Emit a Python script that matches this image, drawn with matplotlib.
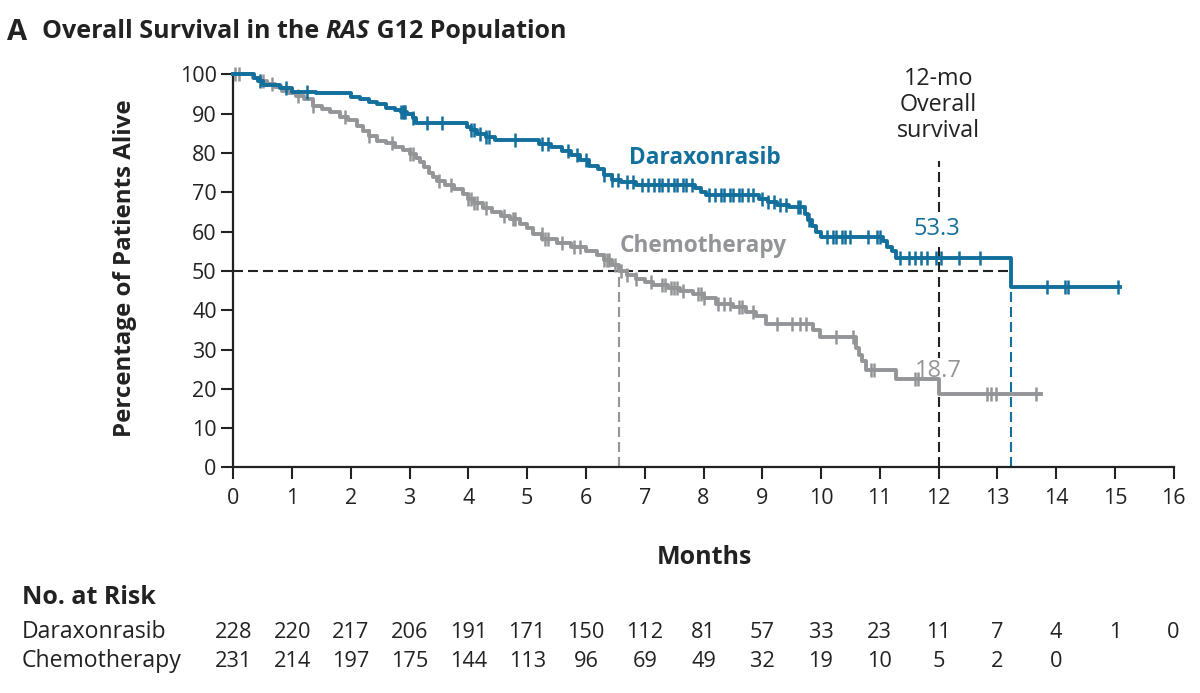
import numpy as np
import matplotlib
matplotlib.use("Agg")
import matplotlib.pyplot as plt

plt.rcParams['font.family'] = ['Open Sans', 'DejaVu Sans']

BLUE = "#136f9c"
GRAY = "#939598"
INK = "#222222"

# Kaplan-Meier step points (month of drop, percent alive after drop)
dar_times = [0.35, 0.42, 0.5, 0.8, 1.0, 1.4, 2.0, 2.15, 2.3, 2.45, 2.6, 2.75, 2.85,
             2.95, 3.05, 3.1, 3.97, 4.05, 4.15, 4.3, 4.45, 5.2, 5.4, 5.6, 5.75, 5.9,
             6.05, 6.2, 6.3, 6.45, 6.6, 6.85, 7.85, 7.95, 8.05, 8.95, 9.1, 9.25,
             9.45, 9.72, 9.78, 9.85, 9.92, 10.0, 11.05, 11.12, 11.2, 11.28, 13.24]
dar_surv = [99.1, 98.2, 97.4, 96.5, 95.6, 95.2, 94.3, 93.8, 92.9, 92.4, 91.5, 91.0, 90.5,
            90.0, 89.0, 87.6, 86.7, 85.8, 84.9, 84.0, 83.2, 82.3, 81.4, 80.5, 79.5, 78.1,
            76.7, 75.8, 74.4, 73.0, 72.6, 71.8, 71.0, 70.0, 69.3, 68.3, 67.5, 66.8,
            66.2, 64.5, 63.0, 61.5, 60.0, 58.7, 57.5, 56.2, 55.0, 53.3, 45.9]
dar_end = 15.08
dar_censor = [0.45, 0.9, 1.25, 2.85, 2.88, 2.9, 2.92, 3.05, 3.3, 3.55, 4.05, 4.1, 4.2,
              4.3, 4.35, 4.8, 5.25, 5.35, 5.7, 5.85, 6.0, 6.3, 6.45, 6.55, 6.7, 6.8,
              6.95, 7.05, 7.15, 7.25, 7.3, 7.4, 7.5, 7.55, 7.65, 7.7, 7.8, 8.1, 8.2,
              8.3, 8.35, 8.45, 8.5, 8.6, 8.65, 8.75, 8.85, 9.0, 9.1, 9.2, 9.3, 9.4,
              9.6, 9.65, 9.8, 10.1, 10.2, 10.25, 10.35, 10.4, 10.5, 10.8, 10.95,
              11.0, 11.35, 11.5, 11.6, 11.7, 11.8, 11.95, 12.05, 12.35, 12.7,
              13.85, 14.15, 14.2, 15.05]

chemo_times = [0.33, 0.45, 0.57, 0.7, 0.83, 0.95, 1.07, 1.2, 1.35, 1.5, 1.65, 1.81, 1.95,
               2.1, 2.2, 2.3, 2.44, 2.6, 2.75, 2.88, 3.0, 3.1, 3.17, 3.25, 3.33, 3.4,
               3.46, 3.6, 3.75, 3.9, 4.0, 4.1, 4.25, 4.4, 4.55, 4.7, 4.87, 5.0, 5.1,
               5.26, 5.5, 5.75, 6.0, 6.18, 6.3, 6.45, 6.57, 6.7, 6.85, 7.0, 7.14, 7.4,
               7.6, 7.82, 8.0, 8.22, 8.5, 8.73, 8.9, 9.07, 9.86, 9.98, 10.6, 10.65,
               10.7, 10.77, 11.28, 12.0]
chemo_surv = [99.1, 98.3, 97.5, 96.8, 95.8, 95.2, 94.5, 93.6, 92.0, 91.2, 90.4, 89.2, 88.3,
              86.9, 85.6, 84.3, 83.0, 82.4, 81.6, 80.8, 79.8, 78.8, 77.6, 76.3, 75.0, 73.8,
              72.8, 71.8, 70.8, 69.6, 68.3, 67.3, 66.0, 65.0, 64.0, 63.2, 62.0, 60.8, 59.5,
              58.0, 57.0, 56.0, 55.0, 54.0, 52.8, 51.6, 50.0, 49.0, 48.0, 47.2, 46.4, 45.6,
              44.8, 44.0, 43.2, 41.5, 40.8, 39.6, 38.6, 36.5, 35.0, 33.2, 30.5, 28.5,
              27.0, 24.9, 22.4, 18.7]
chemo_end = 13.75
chemo_censor = [0.03, 0.1, 0.5, 0.65, 1.1, 1.35, 1.9, 2.3, 2.7, 3.0, 3.05, 3.5, 3.7, 4.0,
                4.05, 4.1, 4.15, 4.3, 4.6, 4.75, 4.8, 5.25, 5.3, 5.35, 5.6, 5.8, 5.9,
                6.3, 6.35, 6.4, 6.5, 6.6, 6.7, 6.85, 7.1, 7.3, 7.35, 7.45, 7.5, 7.55,
                7.65, 7.9, 7.95, 8.0, 8.25, 8.35, 8.45, 8.6, 8.65, 8.85, 9.25, 9.5,
                9.65, 9.75, 10.25, 10.55, 10.85, 10.9, 11.6, 11.65, 12.82, 12.9,
                12.98, 13.66]

dar_median = 13.24
chemo_median = 6.56
dar_12mo = 53.3
chemo_12mo = 18.7

risk_months = list(range(17))
risk_dar = [228, 220, 217, 206, 191, 171, 150, 112, 81, 57, 33, 23, 11, 7, 4, 1, 0]
risk_chemo = [231, 214, 197, 175, 144, 113, 96, 69, 49, 32, 19, 10, 5, 2, 0]


def km_xy(times, surv, end):
    x = [0] + list(times) + [end]
    y = [100] + list(surv) + [surv[-1]]
    return np.array(x), np.array(y)


def at(times, surv, t):
    idx = np.searchsorted(times, t, side='right')
    vals = np.concatenate([[100], surv])
    return vals[idx]


fig = plt.figure(figsize=(12, 6.93), dpi=100)
ax = fig.add_axes([0.1945, 0.3254, 0.7835, 0.5674])

dash = (0, (4.8, 2.4))
ax.plot([0, dar_median], [50, 50], ls=dash, color=INK, lw=1.5)
ax.plot([chemo_median, chemo_median], [0, 50], ls=dash, color=GRAY, lw=1.5)
ax.plot([12, 12], [0, 78], ls=dash, color=INK, lw=1.5, clip_on=False)
ax.plot([dar_median, dar_median], [0, dar_surv[-1]], ls=dash, color=BLUE, lw=1.5)

for times, surv, end, cens, col in [
        (chemo_times, chemo_surv, chemo_end, chemo_censor, GRAY),
        (dar_times, dar_surv, dar_end, dar_censor, BLUE)]:
    x, y = km_xy(times, surv, end)
    ax.step(x, y, where='post', color=col, lw=2.8, clip_on=False, zorder=3)
    cy = [at(np.array(times), np.array(surv), c) for c in cens]
    ax.plot(cens, cy, ls='none', marker='|', ms=10, mew=1.8, color=col,
            clip_on=False, zorder=3)

ax.set_xlim(0, 16)
ax.set_ylim(0, 100)
ax.set_xticks(range(17))
ax.set_yticks(range(0, 101, 10))
for s in ['top', 'right']:
    ax.spines[s].set_visible(False)
for s in ['left', 'bottom']:
    ax.spines[s].set_linewidth(1.6)
    ax.spines[s].set_color(INK)
ax.tick_params(axis='both', direction='out', width=1.5, colors=INK,
               labelsize=15.5, labelcolor=INK)
ax.tick_params(axis='x', length=8.5, pad=6)
ax.tick_params(axis='y', length=9, pad=3)

ax.set_xlabel("Months", fontsize=18, fontweight='bold', color=INK)
ax.xaxis.set_label_coords(0.501, -0.198)
ax.set_ylabel("Percentage of Patients Alive", fontsize=17.4, fontweight='bold',
              color=INK)
ax.yaxis.set_label_coords(-0.1025, 0.507)

ax.text(8.02, 78.7, "Daraxonrasib", color=BLUE, fontsize=16.3, fontweight='bold',
        ha='center', va='center')
ax.text(8.0, 56.3, "Chemotherapy", color=GRAY, fontsize=16.3, fontweight='bold',
        ha='center', va='center')
box = dict(facecolor='white', edgecolor='none', pad=0.5)
ax.text(11.98, 60.6, f"{dar_12mo}", color=BLUE, fontsize=17,
        ha='center', va='center', bbox=box, zorder=2.5)
ax.text(12.0, 24.6, f"{chemo_12mo}", color=GRAY, fontsize=17,
        ha='center', va='center', bbox=box, zorder=2.5)
ax.text(12.0, 92.2, "12-mo\nOverall\nsurvival", color=INK, fontsize=16.8,
        ha='center', va='center', linespacing=1.12)

# title with italic part
fig.canvas.draw()
renderer = fig.canvas.get_renderer()
ty = 1 - 32 / 693
fig.text(7 / 1200, ty, "A", fontsize=21, fontweight='bold', va='center', color=INK)
xpos = 42 / 1200
for part, style in [("Overall Survival in the ", 'normal'), ("RAS", 'italic'),
                    (" G12 Population", 'normal')]:
    t = fig.text(xpos, ty, part, fontsize=18, fontweight='bold', style=style,
                 va='center', color=INK)
    bb = t.get_window_extent(renderer)
    xpos = bb.x1 / 1200

# risk table
fig.text(22 / 1200, 1 - 598 / 693, "No. at Risk", fontsize=18, fontweight='bold',
         va='center', color=INK)
row1 = 1 - 638 / 693
row2 = 1 - 667 / 693
fig.text(22 / 1200, row1, "Daraxonrasib", fontsize=16.6, va='baseline', color=INK)
fig.text(22 / 1200, row2, "Chemotherapy", fontsize=16.6, va='baseline', color=INK)
for m, n in zip(risk_months, risk_dar):
    fig.text(ax.transData.transform((m, 0))[0] / 1200, row1, str(n),
             fontsize=15.7, ha='center', va='baseline', color=INK)
for m, n in zip(risk_months, risk_chemo):
    fig.text(ax.transData.transform((m, 0))[0] / 1200, row2, str(n),
             fontsize=15.7, ha='center', va='baseline', color=INK)

fig.savefig("out.png", dpi=100)
